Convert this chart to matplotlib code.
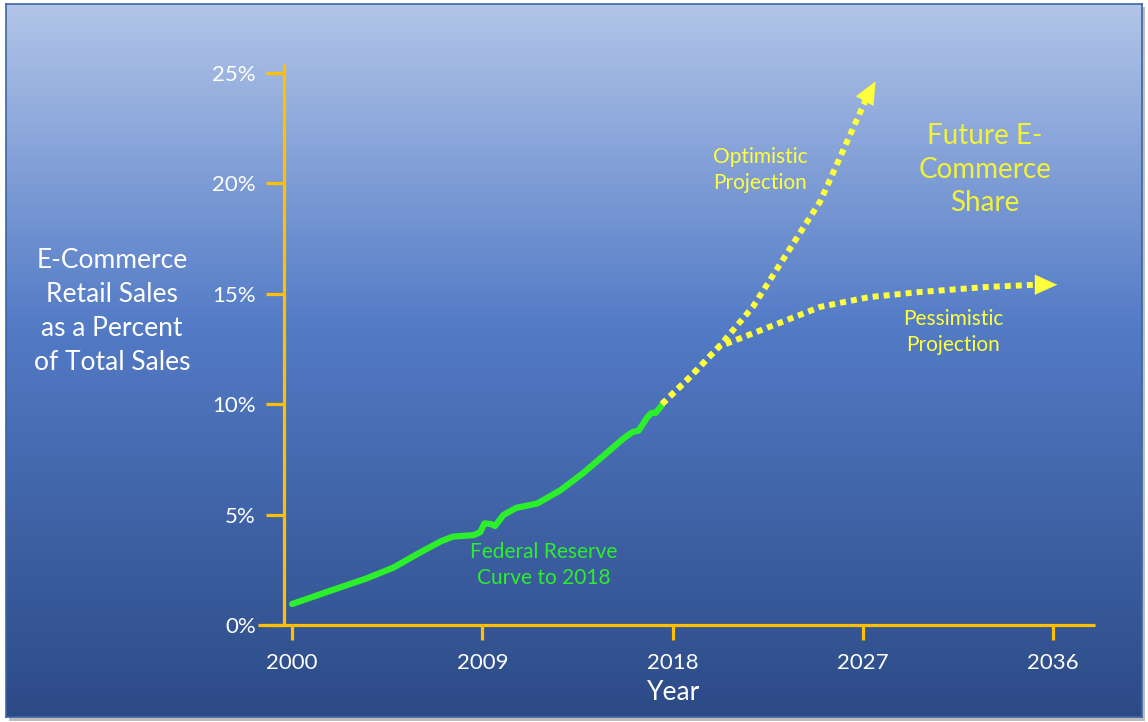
import numpy as np
import matplotlib.pyplot as plt
from matplotlib.colors import LinearSegmentedColormap
from matplotlib.patches import Rectangle

plt.rcParams['font.family'] = ['Lato', 'DejaVu Sans']

# Federal Reserve e-commerce share of retail sales (percent)
fed_years = [2000.0, 2001.9, 2003.5, 2004.8, 2005.9, 2007.0, 2007.6, 2008.6, 2008.9,
             2009.1, 2009.4, 2009.6, 2010.0, 2010.6, 2011.6, 2012.7, 2013.8, 2014.9,
             2015.7, 2016.1, 2016.4, 2016.8, 2017.0, 2017.2, 2017.5]
fed_pct = [0.95, 1.58, 2.1, 2.6, 3.2, 3.77, 4.0, 4.07, 4.2,
           4.6, 4.57, 4.48, 4.98, 5.3, 5.5, 6.1, 6.9, 7.8,
           8.46, 8.73, 8.8, 9.4, 9.6, 9.6, 9.95]

# projections beyond 2018
opt_years = [2017.5, 2018.8, 2020.2, 2021.8, 2023.4, 2025.0, 2026.5, 2027.2, 2027.6]
opt_pct = [10.0, 11.2, 12.6, 14.4, 16.8, 19.2, 22.4, 23.9, 24.6]
pes_years = [2017.5, 2018.8, 2020.2, 2021.8, 2023.4, 2025.0, 2027.3, 2029.7, 2032.9, 2035.2, 2036.2]
pes_pct = [10.0, 11.2, 12.6, 13.2, 13.8, 14.4, 14.84, 15.07, 15.3, 15.4, 15.4]

year_ticks = [2000, 2009, 2018, 2027, 2036]
pct_ticks = [0, 5, 10, 15, 20, 25]
pct_labels = ['0%', '5%', '10%', '15%', '20%', '25%']

W, H = 1148, 722
gold = '#FFC000'
yellow = '#FFFF3C'
green = '#2BEF2B'

fig = plt.figure(figsize=(W / 100, H / 100), dpi=100)
fig.patch.set_facecolor('white')

# slide background with drop shadow and vertical gradient
shadow = fig.add_axes([9 / W, 1 / H, 1136 / W, 714 / H], zorder=-2)
shadow.axis('off')
shadow.add_patch(Rectangle((0, 0), 1, 1, transform=shadow.transAxes,
                           facecolor='#BDBDBD', edgecolor='none'))
bg = fig.add_axes([6 / W, 5 / H, 1136 / W, 713 / H], zorder=-1)
cmap = LinearSegmentedColormap.from_list('slide', [(0.0, '#B2C5E8'), (0.45, '#537BC6'),
                                                   (1.0, '#2C4A86')])
bg.imshow(np.linspace(0, 1, 256).reshape(-1, 1), aspect='auto', cmap=cmap,
          extent=[0, 1, 0, 1], origin='upper')
bg.set_xticks([])
bg.set_yticks([])
for s in bg.spines.values():
    s.set_color('#3D64A4')
    s.set_linewidth(1.2)

# main chart axes, transparent over the gradient
ax = fig.add_axes([250 / W, 72 / H, 850 / W, 590 / H], zorder=1)
ax.patch.set_alpha(0)
ax.set_xlim(1998.01, 2038.22)
ax.set_ylim(-1.131, 25.57)

for s in ['top', 'right']:
    ax.spines[s].set_visible(False)
ax.spines['left'].set_position(('data', 1999.6))
ax.spines['left'].set_bounds(0, 25.4)
ax.spines['bottom'].set_position(('data', 0))
ax.spines['bottom'].set_bounds(1998.4, 2038.0)
for s in ['left', 'bottom']:
    ax.spines[s].set_color(gold)
    ax.spines[s].set_linewidth(2.3)
    ax.spines[s].set_capstyle('butt')

ax.set_xticks(year_ticks)
ax.set_xticklabels([str(y) for y in year_ticks])
ax.set_yticks(pct_ticks)
ax.set_yticklabels(pct_labels)
ax.tick_params(axis='x', direction='out', length=11, width=2.3, color=gold,
               labelcolor='white', labelsize=16, pad=9)
ax.tick_params(axis='y', direction='out', length=13, width=2.3, color=gold,
               labelcolor='white', labelsize=16, pad=7)

# historical curve
ax.plot(fed_years, fed_pct, color=green, lw=4.5, solid_capstyle='round',
        solid_joinstyle='round', zorder=3)

# dotted projections with arrow heads
for xs, ys in [(pes_years, pes_pct), (opt_years, opt_pct)]:
    ax.plot(xs[:-1], ys[:-1], color=yellow, lw=4.3, linestyle=(0, (1, 0.85)),
            dash_capstyle='butt', zorder=3)
    ax.annotate('', xy=(xs[-1], ys[-1]), xytext=(xs[-2], ys[-2]),
                arrowprops=dict(arrowstyle='-|>,head_length=1.0,head_width=0.45',
                                color=yellow, lw=0.1, mutation_scale=16,
                                shrinkA=0, shrinkB=0), zorder=4)

ax.text(2011.92, 2.71, 'Federal Reserve\nCurve to 2018', color=green, fontsize=15,
        ha='center', va='center', linespacing=1.35)
ax.text(2022.14, 20.6, 'Optimistic\nProjection', color=yellow, fontsize=15,
        ha='center', va='center', linespacing=1.35)
ax.text(2031.27, 13.26, 'Pessimistic\nProjection', color=yellow, fontsize=15,
        ha='center', va='center', linespacing=1.35)
ax.text(2032.78, 20.6, 'Future E-\nCommerce\nShare', color='#F2F23A', fontsize=20,
        ha='center', va='center', linespacing=1.35)

fig.text(674 / W, 1 - 693 / H, 'Year', color='white', fontsize=19,
         ha='center', va='center')
fig.text(112 / W, 1 - 311 / H, 'E-Commerce\nRetail Sales\nas a Percent\nof Total Sales',
         color='white', fontsize=19, ha='center', va='center', linespacing=1.45)

fig.savefig('out.png', dpi=100)
